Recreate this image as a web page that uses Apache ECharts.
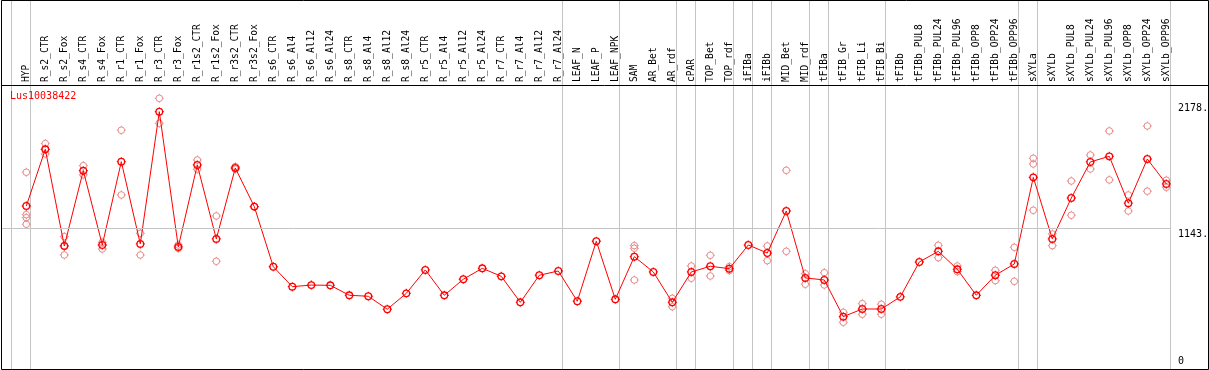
<!DOCTYPE html>
<html>
<head>
<meta charset="utf-8">
<script src="https://cdn.jsdelivr.net/npm/echarts@6/dist/echarts.min.js"></script>
<style>
  html, body { margin: 0; padding: 0; background: #fff; }
  #chart { width: 1209px; height: 370px; }
</style>
</head>
<body>
<div id="chart"></div>
<script>
const geneName = 'Lus10038422';

const categories = [
  'HYP', 'R_s2_CTR', 'R_s2_Fox', 'R_s4_CTR', 'R_s4_Fox', 'R_r1_CTR', 'R_r1_Fox',
  'R_r3_CTR', 'R_r3_Fox', 'R_r1s2_CTR', 'R_r1s2_Fox', 'R_r3s2_CTR', 'R_r3s2_Fox',
  'R_s6_CTR', 'R_s6_Al4', 'R_s6_Al12', 'R_s6_Al24', 'R_s8_CTR', 'R_s8_Al4', 'R_s8_Al12',
  'R_s8_Al24', 'R_r5_CTR', 'R_r5_Al4', 'R_r5_Al12', 'R_r5_Al24', 'R_r7_CTR', 'R_r7_Al4',
  'R_r7_Al12', 'R_r7_Al24', 'LEAF_N', 'LEAF_P', 'LEAF_NPK', 'SAM', 'AR_Bet', 'AR_rdf',
  'cPAR', 'TOP_Bet', 'TOP_rdf', 'iFIBa', 'iFIBb', 'MID_Bet', 'MID_rdf', 'tFIBa',
  'tFIB_Gr', 'tFIB_Li', 'tFIB_Bi', 'tFIBb', 'tFIBb_PUL8', 'tFIBb_PUL24', 'tFIBb_PUL96',
  'tFIBb_OPP8', 'tFIBb_OPP24', 'tFIBb_OPP96', 'sXYLa', 'sXYLb', 'sXYLb_PUL8',
  'sXYLb_PUL24', 'sXYLb_PUL96', 'sXYLb_OPP8', 'sXYLb_OPP24', 'sXYLb_OPP96'
];

const meanValues = [
  1326, 1793, 997, 1617, 1005, 1691, 1014, 2103, 989, 1664, 1055, 1639, 1321,
  826, 662, 675, 673, 591, 583, 476, 607, 800, 591, 723, 813, 747, 533, 756, 791,
  542, 1036, 558, 909, 783, 533, 783, 830, 810, 1005, 939, 1285, 734, 717,
  415, 478, 478, 578, 865, 953, 805, 591, 756, 849,
  1562, 1055, 1392, 1689, 1735, 1349, 1713, 1508
];

const replicateValues = [
  [1604, 1255, 1230, 1176], [1840, 1755, 1793], [1074, 923, 997], [1658, 1582], [1027, 972],
  [1950, 1417], [1101, 923], [2213, 2007], [1005, 978], [1705, 1629], [1244, 871],
  [1650, 1630], [1321],
  [], [], [], [], [], [], [], [], [], [], [], [], [], [], [], [],
  [], [], [], [1000, 978, 717], [], [566, 497], [832, 731], [920, 750], [827, 795], [],
  [997, 876], [1620, 953], [769, 682], [777, 676], [451, 369], [522, 435], [517, 435],
  [], [], [1003, 901], [832, 786], [], [797, 712], [986, 706],
  [1719, 1672, 1291], [1096, 1000], [1532, 1250], [1746, 1631], [1944, 1541],
  [1417, 1285], [1985, 1448], [1538, 1480]
];

const yTickValues = [0, 1143, 2178];
const separatorPositions = [-0.82, 0.22, 28.22, 31.22, 34.22, 35.22, 37.22, 38.22, 39.22,
  41.22, 42.22, 45.22, 52.22, 53.22, 60.21];

const FONT = 'DejaVu Sans Mono';
const markerPath = 'path://M-3.3,0A3.3,3.3,0,1,1,3.3,0A3.3,3.3,0,1,1,-3.3,0Z' +
  'M0,-4.5L0,-3.3M0,3.3L0,4.5M-4.5,0L-3.3,0M3.3,0L4.5,0';

const meanData = meanValues.map((v, i) => [i, v]);
const repData = [];
replicateValues.forEach((arr, i) => arr.forEach(v => repData.push([i, v])));

const chart = echarts.init(document.getElementById('chart'), null, { renderer: 'canvas' });
chart.setOption({
  backgroundColor: '#fff',
  animation: false,
  title: {
    text: geneName, left: 10, top: 91, padding: 0, z: 0,
    textStyle: { color: '#ff0000', fontSize: 10, fontFamily: FONT, fontWeight: 'normal' }
  },
  grid: { left: 1, right: 37.95, top: 1, bottom: 1, containLabel: false, outerBoundsMode: 'none' },
  xAxis: {
    type: 'value', min: -1.3316, max: 60.25, position: 'top', offset: -84,
    axisLine: { show: false }, axisTick: { show: false }, splitLine: { show: false },
    axisLabel: {
      customValues: categories.map((_, i) => i),
      formatter: v => categories[Math.round(v)] || '',
      rotate: 90, margin: 3, fontSize: 9.6, fontFamily: FONT, color: '#000',
      showMinLabel: true, showMaxLabel: true, hideOverlap: false
    }
  },
  yAxis: {
    type: 'value', min: -16, max: 3014, position: 'right',
    axisLine: { show: false }, axisTick: { show: false }, splitLine: { show: false },
    axisLabel: {
      customValues: yTickValues, margin: 7, fontSize: 10, fontFamily: FONT, color: '#000',
      verticalAlign: 'middle', align: 'left',
      formatter: v => v === 0 ? '{b|0}' : '{t|' + v + '.}',
      rich: {
        t: { padding: [12, 0, 0, 0], fontSize: 10, fontFamily: FONT, color: '#000' },
        b: { padding: [0, 0, 12, 0], fontSize: 10, fontFamily: FONT, color: '#000' }
      }
    }
  },
  series: [
    {
      type: 'scatter', name: 'separators', data: [], z: 1, silent: true,
      markLine: {
        silent: true, symbol: 'none', animation: false,
        label: { show: false },
        lineStyle: { color: '#c4c4c4', type: 'solid', width: 1 },
        data: [{ yAxis: 1143 }]
      }
    },
    {
      type: 'scatter', name: 'replicates', data: repData, z: 2,
      symbol: markerPath, symbolSize: 9,
      itemStyle: { color: 'rgba(0,0,0,0)', borderColor: '#e88a8a', borderWidth: 1, opacity: 1 },
      silent: true
    },
    {
      type: 'line', name: geneName, data: meanData, z: 3,
      symbol: markerPath, symbolSize: 9, showSymbol: true,
      lineStyle: { color: '#ff0000', width: 1 },
      itemStyle: { color: 'rgba(0,0,0,0)', borderColor: '#ff0000', borderWidth: 1.3 },
      silent: true
    }
  ]
});

// frame, header rule, and full-height separator lines (positions from the x scale)
const graphics = [
  { type: 'rect', z: 100, silent: true,
    shape: { x: 1.5, y: 0.5, width: 1207, height: 369 },
    style: { fill: 'none', stroke: '#000', lineWidth: 1 } },
  { type: 'line', z: 100, silent: true,
    shape: { x1: 1, y1: 85.5, x2: 1208, y2: 85.5 },
    style: { stroke: '#000', lineWidth: 1 } }
];
separatorPositions.forEach(x => {
  const px = Math.round(chart.convertToPixel({ xAxisIndex: 0 }, x)) + 0.5;
  graphics.push({ type: 'line', z: 0, silent: true,
    shape: { x1: px, y1: 0, x2: px, y2: 369 },
    style: { stroke: '#c4c4c4', lineWidth: 1 } });
});
chart.setOption({ graphic: graphics });
</script>
</body>
</html>
